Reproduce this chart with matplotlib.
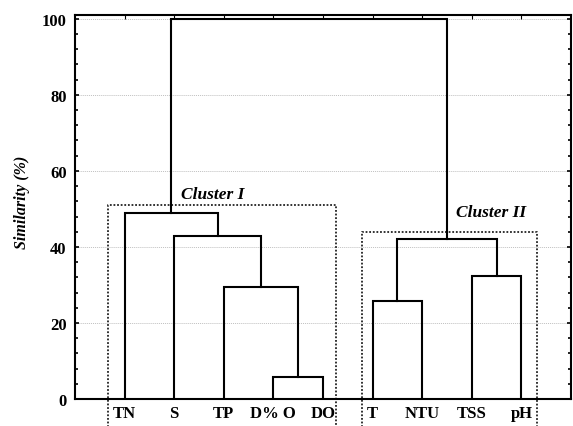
# Dendrogram of water-quality parameters (similarity %), two clusters boxed
import matplotlib
matplotlib.use('Agg')
import matplotlib.pyplot as plt
from matplotlib.ticker import MultipleLocator

plt.rcParams['font.family'] = ['Liberation Serif', 'DejaVu Serif']

# ===== data =====
leaves = ['TN', 'S', 'TP', 'D% O', 'DO', 'T', 'NTU', 'TSS', 'pH']
# merges: node ids 0..8 are leaves, each merge creates node 9, 10, ...
merge_a = [3, 5, 2, 7, 10, 1, 0, 15]
merge_b = [4, 6, 9, 8, 12, 11, 14, 13]
merge_h = [5.7, 25.9, 29.4, 32.4, 42.2, 42.8, 48.9, 100.0]

# cluster boxes: (x_left, x_right, top), x in leaf-position units
cluster_names = ['Cluster I', 'Cluster II']
box_left = [0.66, 5.79]
box_right = [5.26, 9.32]
box_top = [50.9, 43.9]

# ===== figure =====
fig = plt.figure(figsize=(5.73, 4.27), dpi=100)
ax = fig.add_axes([0.1309, 0.0632, 0.8656, 0.8993])

n = len(leaves)
xpos = {i: i + 1 for i in range(n)}
ypos = {i: 0.0 for i in range(n)}
for k, (a, b, h) in enumerate(zip(merge_a, merge_b, merge_h)):
    node = n + k
    xa, xb = xpos[a], xpos[b]
    ax.plot([xa, xa, xb, xb], [ypos[a], h, h, ypos[b]],
            color='black', lw=1.5, solid_joinstyle='miter', zorder=3)
    xpos[node] = (xa + xb) / 2
    ypos[node] = h

# grid
for g in [20, 40, 60, 80, 100]:
    ax.axhline(g, color='#c0c0c0', lw=0.7, ls=(0, (1, 1)), zorder=1)

# cluster boxes
for name, l, r, t in zip(cluster_names, box_left, box_right, box_top):
    ax.plot([l, l, r, r], [-9, t, t, -9], color='#222222', lw=1.3,
            ls=(0, (1, 1)), clip_on=False, zorder=2)

ax.text(2.78, 53.9, 'Cluster I', fontsize=12.5, fontweight='bold',
        fontstyle='italic', ha='center', va='center')
ax.text(8.38, 49.2, 'Cluster II', fontsize=12.5, fontweight='bold',
        fontstyle='italic', ha='center', va='center')

# axes
ax.set_xlim(0, 10)
ax.set_ylim(0, 101)
ax.set_xticks(range(1, n + 1))
ax.set_xticklabels(leaves, fontsize=12, fontweight='bold')
ax.tick_params(axis='x', which='both', bottom=False, top=True,
               direction='in', length=3, pad=4)
ax.yaxis.set_major_locator(MultipleLocator(20))
ax.yaxis.set_minor_locator(MultipleLocator(4))
ax.tick_params(axis='y', which='both', left=True, right=True,
               direction='in', width=1.2)
ax.tick_params(axis='y', which='major', length=3, labelsize=12, pad=6)
ax.tick_params(axis='y', which='minor', length=2.5)
for lab in ax.get_yticklabels():
    lab.set_fontweight('bold')
for s in ax.spines.values():
    s.set_linewidth(1.5)

fig.text(22 / 573, 1 - 202 / 427, 'Similarity (%)', rotation=90,
         fontsize=11.5, fontweight='bold', fontstyle='italic',
         ha='center', va='center')

fig.savefig('out.png', dpi=100, facecolor='white')
